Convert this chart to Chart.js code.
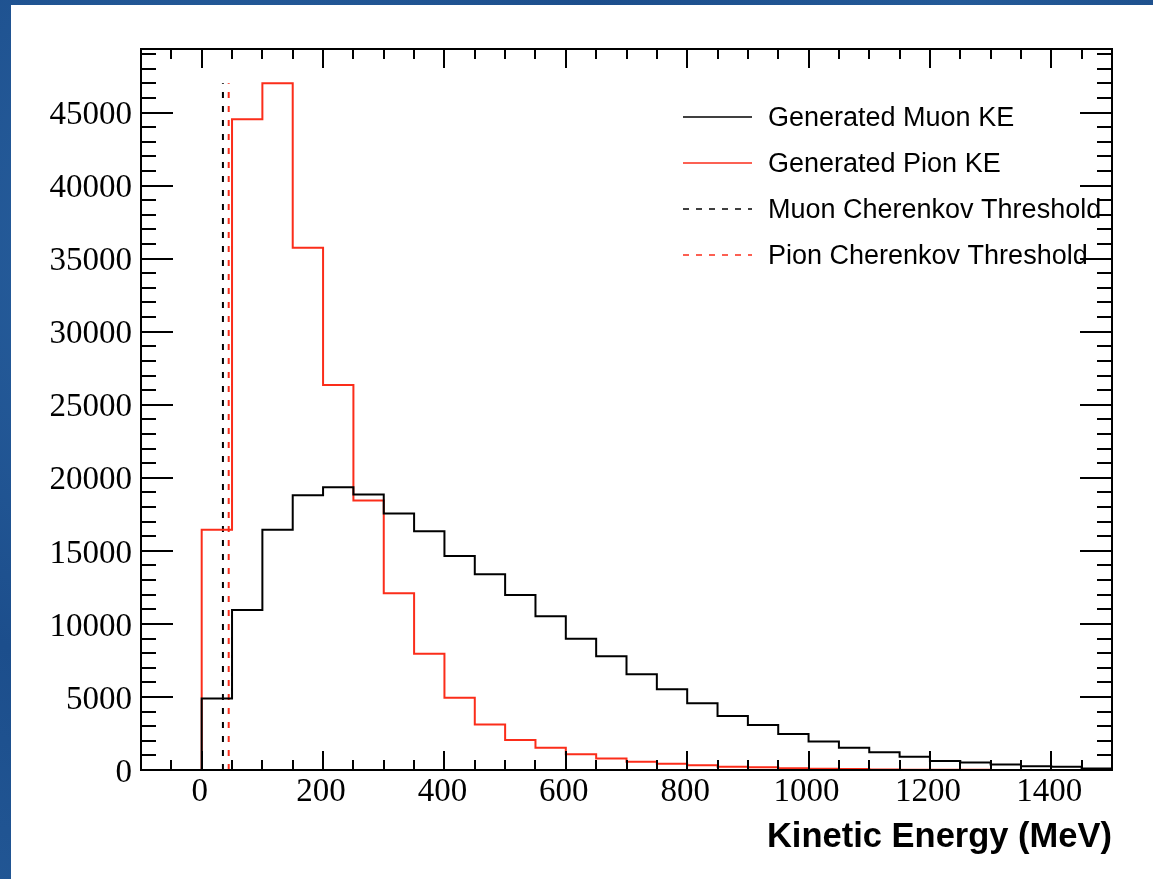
<!DOCTYPE html>
<html>
<head>
<meta charset="utf-8">
<script src="https://cdn.jsdelivr.net/npm/chart.js@4.4.1/dist/chart.umd.min.js"></script>
<style>
  html, body { margin: 0; padding: 0; }
  body {
    width: 1153px; height: 879px; overflow: hidden; position: relative;
    background: radial-gradient(circle at 20% 30%, #2b64a3 0, #1c4e8c 40%, #245a98 70%, #1a4a86 100%);
  }
  #panel { position: absolute; left: 11px; top: 5px; width: 1142px; height: 874px; background: #fff; }
</style>
</head>
<body>
<div id="panel"><canvas id="chart" width="1142" height="874"></canvas></div>
<script>
// bin low edges in MeV (50 MeV bins)
const binLow = [0, 50, 100, 150, 200, 250, 300, 350, 400, 450, 500, 550, 600, 650, 700,
  750, 800, 850, 900, 950, 1000, 1050, 1100, 1150, 1200, 1250, 1300, 1350, 1400, 1450];
const binWidth = 50;

const muonCounts = [4900, 10950, 16450, 18800, 19350, 18850, 17550, 16350, 14650, 13400,
  11980, 10520, 8980, 7780, 6560, 5530, 4570, 3700, 3080, 2470,
  1950, 1530, 1210, 910, 610, 520, 370, 260, 230, 100];

const pionCounts = [16450, 44550, 47000, 35750, 26350, 18450, 12100, 7950, 4950, 3120,
  2050, 1530, 1070, 780, 570, 430, 320, 230, 180, 120,
  90, 60, 40, 25, 15, 10, 6, 4, 2, 1];

// Cherenkov thresholds (MeV)
const muonThreshold = 35;
const pionThreshold = 44.5;

const xTickLabels = [0, 200, 400, 600, 800, 1000, 1200, 1400];
const yTickLabels = [0, 5000, 10000, 15000, 20000, 25000, 30000, 35000, 40000, 45000];

const RED = "#fb2d1a";

function histPoints(counts) {
  const pts = [{ x: binLow[0], y: 0 }];
  counts.forEach((c, i) => pts.push({ x: binLow[i], y: c }));
  pts.push({ x: binLow[binLow.length - 1] + binWidth, y: counts[counts.length - 1] });
  return pts;
}

const peak = Math.max(...pionCounts);

// ROOT style frame with inside ticks on all four sides
const frameTicks = {
  id: "frameTicks",
  afterDatasetsDraw(chart) {
    const { ctx, chartArea: a, scales: { x, y } } = chart;
    ctx.save();
    ctx.strokeStyle = "#000";
    ctx.lineWidth = 2;
    ctx.beginPath();
    for (let v = -50; v < 1500; v += 50) {
      const px = Math.round(x.getPixelForValue(v));
      const len = v % 200 === 0 ? 19 : 10;
      ctx.moveTo(px, a.bottom); ctx.lineTo(px, a.bottom - len);
      ctx.moveTo(px, a.top); ctx.lineTo(px, a.top + len);
    }
    for (let v = 1000; v < y.max; v += 1000) {
      const py = Math.round(y.getPixelForValue(v));
      const len = v % 5000 === 0 ? 32 : 15;
      ctx.moveTo(a.left, py); ctx.lineTo(a.left + len, py);
      ctx.moveTo(a.right, py); ctx.lineTo(a.right - len, py);
    }
    ctx.stroke();
    ctx.strokeRect(a.left, a.top, a.right - a.left, a.bottom - a.top);
    ctx.restore();
  }
};

// legend in the top right of the frame
const rootLegend = {
  id: "rootLegend",
  afterDraw(chart) {
    const { ctx } = chart;
    ctx.save();
    ctx.font = '27px "Liberation Sans", Arial, sans-serif';
    ctx.textBaseline = "middle";
    ctx.fillStyle = "#000";
    chart.data.datasets.forEach((ds, i) => {
      const yy = 112 + i * 46;
      ctx.strokeStyle = ds.borderColor;
      ctx.lineWidth = 1.5;
      ctx.setLineDash(ds.borderDash ? [6, 7] : []);
      ctx.beginPath();
      ctx.moveTo(672, yy);
      ctx.lineTo(741, yy);
      ctx.stroke();
      ctx.fillText(ds.label, 757, yy + 2);
    });
    ctx.restore();
  }
};

new Chart(document.getElementById("chart"), {
  type: "line",
  data: {
    datasets: [
      { label: "Generated Muon KE", data: histPoints(muonCounts), borderColor: "#000", borderWidth: 2, stepped: "before" },
      { label: "Generated Pion KE", data: histPoints(pionCounts), borderColor: RED, borderWidth: 2, stepped: "before" },
      { label: "Muon Cherenkov Threshold", data: [{ x: muonThreshold, y: 0 }, { x: muonThreshold, y: peak }],
        borderColor: "#000", borderWidth: 2, borderDash: [6, 8] },
      { label: "Pion Cherenkov Threshold", data: [{ x: pionThreshold, y: 0 }, { x: pionThreshold, y: peak }],
        borderColor: RED, borderWidth: 2, borderDash: [6, 8] }
    ]
  },
  options: {
    responsive: false,
    animation: false,
    devicePixelRatio: 1,
    layout: { padding: { top: 44, right: 41, left: 0, bottom: 0 } },
    elements: { point: { radius: 0 }, line: { fill: false, tension: 0 } },
    plugins: { legend: { display: false }, tooltip: { enabled: false } },
    scales: {
      x: {
        type: "linear", min: -100, max: 1500,
        grid: { display: false, drawTicks: false },
        border: { display: false },
        afterBuildTicks: s => { s.ticks = xTickLabels.map(v => ({ value: v })); },
        afterFit: s => { s.height = 109; },
        ticks: {
          color: "#000", padding: 6, labelOffset: -2, maxRotation: 0, autoSkip: false,
          font: { family: "Liberation Serif", size: 33, lineHeight: 1 },
          callback: v => String(v)
        },
        title: {
          display: true, text: "Kinetic Energy (MeV)", align: "end", color: "#000",
          font: { family: "Liberation Sans", size: 34.5, weight: "bold", lineHeight: 1 },
          padding: { top: 0, bottom: 24 }
        }
      },
      y: {
        type: "linear", min: 0, max: 49350,
        grid: { display: false, drawTicks: false },
        border: { display: false },
        afterBuildTicks: s => { s.ticks = yTickLabels.map(v => ({ value: v })); },
        afterFit: s => { s.width = 130; },
        ticks: {
          color: "#000", padding: 9, labelOffset: 3, autoSkip: false,
          font: { family: "Liberation Serif", size: 33, lineHeight: 1 },
          callback: v => String(v)
        }
      }
    }
  },
  plugins: [frameTicks, rootLegend]
});
</script>
</body>
</html>
